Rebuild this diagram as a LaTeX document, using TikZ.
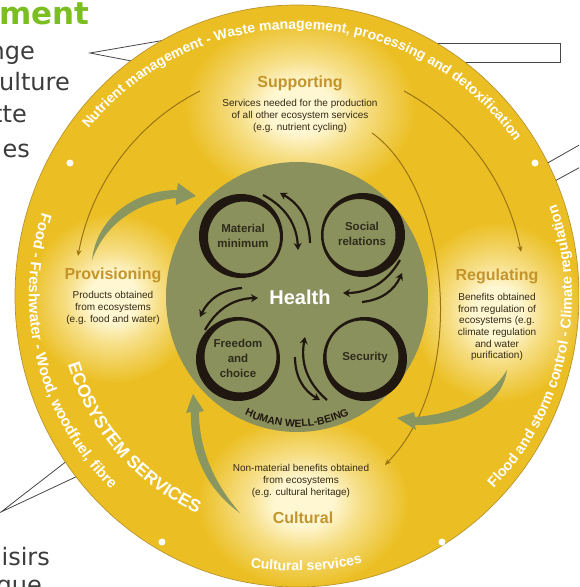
\documentclass[tikz,border=0pt]{standalone}
\usepackage{fontspec}
\setmainfont{Liberation Sans}
\newfontfamily\slidefont{DejaVu Sans}
\usetikzlibrary{arrows.meta,decorations.text}

\definecolor{ringyel}{RGB}{235,191,36}
\definecolor{rimedge}{RGB}{185,148,45}
\definecolor{glowc}{RGB}{255,247,210}
\definecolor{wellgreen}{RGB}{139,145,93}
\definecolor{leafgreen}{RGB}{138,150,96}
\definecolor{ochre}{RGB}{196,148,44}
\definecolor{desctext}{RGB}{52,42,22}
\definecolor{flowline}{RGB}{155,115,18}
\definecolor{ringblack}{RGB}{32,24,16}
\definecolor{ringtext}{RGB}{46,44,28}
\definecolor{slidegreen}{RGB}{122,190,34}
\definecolor{slidegray}{RGB}{60,60,60}
\definecolor{calloutgray}{RGB}{70,70,70}
\colorlet{glowmid}{glowc!55!ringyel}

\pgfdeclareradialshading{glow}{\pgfpoint{0bp}{0bp}}{color(0bp)=(glowc); color(7bp)=(glowc); color(14bp)=(glowmid); color(25bp)=(ringyel); color(50bp)=(ringyel)}

\begin{document}
\begin{tikzpicture}[
  x=1pt, y=1pt,
  title/.style={font=\fontsize{16}{16}\selectfont\bfseries, text=ochre, inner sep=0pt},
  desc/.style={align=center, font=\fontsize{10}{11.7}\selectfont, text=desctext, inner sep=0pt},
  inring/.style={align=center, font=\fontsize{11.5}{15}\selectfont\bfseries, text=ringtext, inner sep=0pt},
  slide/.style={font=\slidefont\fontsize{24}{24}\selectfont, text=slidegray, inner sep=0pt, anchor=base east},
  rim/.style 2 args={decorate, decoration={text along path, text align=center, text color=white, text={|\fontsize{#1}{#1}\selectfont\bfseries|#2}}},
  flow/.style={draw=flowline, line width=1pt, -{Stealth[length=6pt,width=5pt]}},
  swirl/.style={draw=ringblack, line width=2.2pt, -{Stealth[length=7pt,width=8pt]}},
  callout/.style={draw=calloutgray, line width=0.8pt}
]
\useasboundingbox (-297,-291) rectangle (282,296);
\clip (-297,-291) rectangle (282,296);
\fill[white] (-297,-291) rectangle (282,296);

\node[slide, font=\slidefont\bfseries\fontsize{31}{31}\selectfont, text=slidegreen] (sment) at (-207,271) {ment};
\node[slide] (snge) at (-262,236) {nge};
\node[slide] (sulture) at (-227,205) {ulture};
\node[slide] (stte) at (-270,174) {tte};
\node[slide] (ses) at (-267,139) {es};
\node[slide] (sisirs) at (-247,-269) {isirs};
\node[slide] (sgue) at (-255,-297) {gue};

\coordinate (tip1) at (-207,243);
\coordinate (tip2) at (-296,-216);
\draw[callout] (-120,258) -- (tip1) -- (-150,232);
\draw[callout] (-225,-161) -- (tip2) -- (-215,-178);
\draw[callout, fill=white] (100,234) rectangle (263,253);
\draw[callout] (240,127) -- (300,161);
\draw[callout] (245,108) -- (300,138);

\fill[ringyel] (0,0) ellipse[x radius=282, y radius=291];
\begin{scope}
  \clip (0,0) ellipse[x radius=281, y radius=290];
  \shade[shading=glow] (3,188) ellipse[x radius=115, y radius=90];
  \shade[shading=glow] (-184,-2) ellipse[x radius=85, y radius=85];
  \shade[shading=glow] (200,-16) ellipse[x radius=85, y radius=90];
  \shade[shading=glow] (6,-206) ellipse[x radius=105, y radius=85];
\end{scope}
\draw[rimedge, line width=0.7pt] (0,0) ellipse[x radius=282, y radius=291];

\path[rim={14}{Nutrient management - Waste management, processing and detoxification}] (150:267) arc[start angle=150, end angle=26.6, radius=267];
\path[rim={15}{Food - Freshwater - Wood, woodfuel, fibre}] (150:268) arc[start angle=150, end angle=238, radius=268];
\path[rim={14.5}{Flood and storm control - Climate regulation}] (-57:275) arc[start angle=-57, end angle=32, radius=275];
\path[rim={14}{Cultural services}] (245:275) arc[start angle=245, end angle=299, radius=275];
\path[rim={17.5}{ECOSYSTEM SERVICES}] (190:239) arc[start angle=190, end angle=252, radius=239];

\fill[white] (-227,133) circle (3.5);
\fill[white] (238,133) circle (3.5);
\fill[white] (-135,-246) circle (3.5);
\fill[white] (145,-246) circle (3.5);

\coordinate (supL) at (-97,205);
\coordinate (provT) at (-219,40);
\coordinate (supR) at (107,205);
\coordinate (regT) at (224,44);
\coordinate (supC) at (75,163);
\coordinate (culT) at (88,-169);
\draw[flow] (supL) .. controls (-161,173) and (-206,111) .. (provT);
\draw[flow] (supR) .. controls (168,172) and (211,113) .. (regT);
\draw[flow] (supC) .. controls (150,110) and (175,-80) .. (culT);

\fill[wellgreen] (0,-1) ellipse[x radius=131, y radius=135];

\fill[leafgreen] (-205,36) .. controls (-200,80) and (-160,106) .. (-120,106) -- (-119,113) -- (-101,100) -- (-121,91) -- (-121,98) .. controls (-160,94) and (-192,72) .. cycle;
\fill[leafgreen] (210,-74) .. controls (205,-110) and (165,-130) .. (118,-129) -- (119,-134) -- (100,-122) -- (117,-116) -- (118,-121) .. controls (160,-118) and (195,-100) .. cycle;
\fill[leafgreen] (-57,-217) .. controls (-95,-190) and (-107,-150) .. (-106,-116) -- (-111,-117) -- (-104,-98) -- (-93,-115) -- (-98,-116) .. controls (-98,-150) and (-85,-185) .. cycle;

\coordinate (mm) at (-56,60);
\coordinate (sr) at (66,61);
\coordinate (fc) at (-59,-63);
\coordinate (se) at (68,-63);
\fill[ringblack, even odd rule] (mm) circle (42) ([shift={(3,-1.5)}]mm) circle (36);
\fill[ringblack, even odd rule] (sr) circle (42) ([shift={(-3.5,0)}]sr) circle (36);
\fill[ringblack, even odd rule] (fc) circle (42) ([shift={(2.5,2.5)}]fc) circle (36);
\fill[ringblack, even odd rule] (se) circle (42) ([shift={(-2.5,2.5)}]se) circle (36);

\coordinate (a1) at (-34,101); \coordinate (a2) at (1,46);
\coordinate (b1) at (13,53);   \coordinate (b2) at (-17,103);
\coordinate (c1) at (103,36);  \coordinate (c2) at (46,3);
\coordinate (d1) at (65,-6);   \coordinate (d2) at (105,23);
\coordinate (e1) at (-92,-34); \coordinate (e2) at (-39,-2);
\coordinate (f1) at (-55,8);   \coordinate (f2) at (-97,-21);
\coordinate (g1) at (30,-104); \coordinate (g2) at (8,-41);
\coordinate (h1) at (-2,-61);  \coordinate (h2) at (23,-104);
\draw[swirl] (a1) to[bend left=30] (a2);
\draw[swirl] (b1) to[bend right=30] (b2);
\draw[swirl] (c1) to[bend left=30] (c2);
\draw[swirl] (d1) to[bend right=30] (d2);
\draw[swirl] (e1) to[bend left=30] (e2);
\draw[swirl] (f1) to[bend right=30] (f2);
\draw[swirl] (g1) to[bend left=30] (g2);
\draw[swirl] (h1) to[bend right=30] (h2);

\node[inring] (mmtext) at (-54,60) {Material\\minimum};
\node[inring] (srtext) at (65,62) {Social\\relations};
\node[inring] (fctext) at (-59,-62) {Freedom\\and\\choice};
\node[inring] (setext) at (68,-62) {Security};
\node[font=\fontsize{20}{20}\selectfont\bfseries, text=white, inner sep=0pt] (health) at (3,-1) {Health};
\path[decorate, decoration={text along path, text align=center, text color=ringblack, text={|\fontsize{10.5}{10.5}\selectfont\bfseries|HUMAN WELL-BEING}}] (0,-1) ++(235:124 and 130) arc[start angle=235, end angle=305, x radius=124, y radius=130];

\node[title] (supporting) at (3,213) {Supporting};
\node[desc] (supdesc) at (3,180) {Services needed for the production\\of all other ecosystem services\\(e.g. nutrient cycling)};
\node[title] (provisioning) at (-184,21) {Provisioning};
\node[desc] (provdesc) at (-184,-12) {Products obtained\\from ecosystems\\(e.g. food and water)};
\node[title] (regulating) at (200,20) {Regulating};
\node[desc] (regdesc) at (200,-31) {Benefits obtained\\from regulation of\\ecosystems (e.g.\\climate regulation\\and water\\purification)};
\node[title] (cultural) at (6,-222) {Cultural};
\node[desc] (culdesc) at (4,-185) {Non-material benefits obtained\\from ecosystems\\(e.g. cultural heritage)};
\end{tikzpicture}
\end{document}
